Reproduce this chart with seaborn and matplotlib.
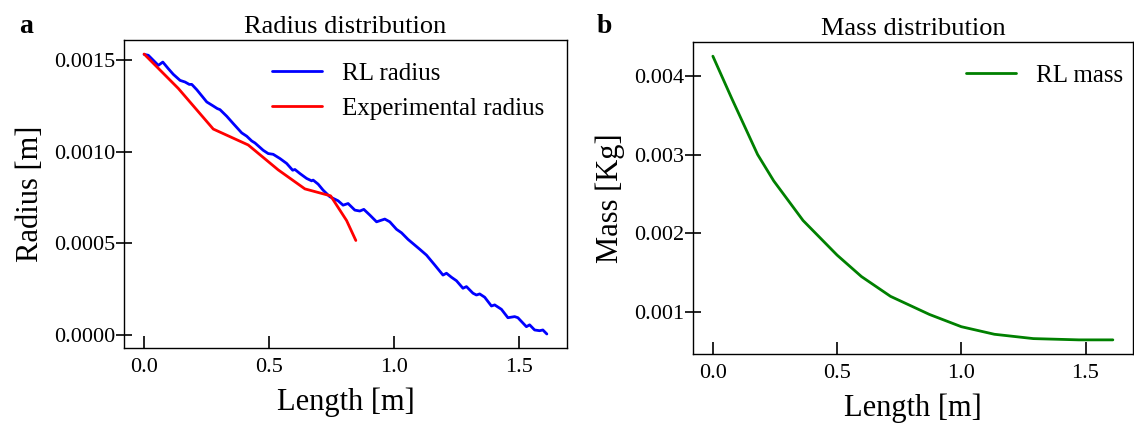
import numpy as np
import pandas as pd
import matplotlib
matplotlib.use("Agg")
import matplotlib.pyplot as plt
import seaborn as sns

# RL radius along the rod
rl_length = [0.000, 0.017, 0.044, 0.057, 0.075, 0.097, 0.117, 0.144, 0.164, 0.181,
             0.191, 0.211, 0.251, 0.277, 0.293, 0.304, 0.331, 0.357, 0.391, 0.411,
             0.431, 0.444, 0.477, 0.497, 0.517, 0.544, 0.571, 0.595, 0.604, 0.624,
             0.651, 0.671, 0.677, 0.697, 0.717, 0.744, 0.777, 0.797, 0.817, 0.844,
             0.864, 0.880, 0.904, 0.931, 0.944, 0.964, 0.984, 1.011, 1.031, 1.057,
             1.104, 1.131, 1.164, 1.197, 1.211, 1.231, 1.251, 1.277, 1.291, 1.317,
             1.331, 1.344, 1.364, 1.391, 1.404, 1.431, 1.457, 1.484, 1.497, 1.531,
             1.544, 1.564, 1.584, 1.597, 1.613]
rl_radius = [1.533, 1.528, 1.491, 1.473, 1.491, 1.455, 1.424, 1.391, 1.382, 1.369,
             1.369, 1.340, 1.273, 1.251, 1.237, 1.231, 1.195, 1.155, 1.104, 1.086,
             1.060, 1.049, 1.009, 0.991, 0.987, 0.964, 0.937, 0.900, 0.904, 0.882,
             0.855, 0.842, 0.846, 0.824, 0.791, 0.755, 0.733, 0.709, 0.718, 0.682,
             0.677, 0.686, 0.655, 0.618, 0.624, 0.633, 0.618, 0.577, 0.558, 0.522,
             0.468, 0.436, 0.382, 0.327, 0.337, 0.315, 0.296, 0.255, 0.264, 0.228,
             0.218, 0.224, 0.206, 0.158, 0.164, 0.140, 0.094, 0.100, 0.094, 0.045,
             0.055, 0.027, 0.023, 0.027, 0.005]  # x 1e-3 m

# experimental radius
exp_length = [0.000, 0.137, 0.277, 0.417, 0.537, 0.644, 0.747, 0.811, 0.848]
exp_radius = [1.535, 1.347, 1.125, 1.038, 0.902, 0.798, 0.760, 0.625, 0.516]  # x 1e-3 m

# RL mass
mass_length = [0.000, 0.076, 0.180, 0.245, 0.363, 0.500, 0.598, 0.715, 0.872,
               1.000, 1.133, 1.290, 1.473, 1.610]
rl_mass = [4.247, 3.711, 3.000, 2.665, 2.163, 1.724, 1.452, 1.201, 0.971,
           0.816, 0.720, 0.665, 0.649, 0.649]  # x 1e-3 kg

rl_df = pd.DataFrame({"Length": rl_length, "Radius": np.array(rl_radius) * 1e-3})
exp_df = pd.DataFrame({"Length": exp_length, "Radius": np.array(exp_radius) * 1e-3})
mass_df = pd.DataFrame({"Length": mass_length, "Mass": np.array(rl_mass) * 1e-3})

sns.set_theme(style="ticks")
plt.rcParams["font.family"] = ["Liberation Serif", "DejaVu Serif"]
plt.rcParams["axes.linewidth"] = 1.0
for k in ("text.color", "axes.labelcolor", "xtick.color", "ytick.color", "axes.edgecolor"):
    plt.rcParams[k] = "black"

fig = plt.figure(figsize=(11.34, 4.23), dpi=100)
ax1 = fig.add_axes([0.1093, 0.1773, 0.3907, 0.7281])
ax2 = fig.add_axes([0.611, 0.163, 0.388, 0.7377])

sns.lineplot(data=rl_df, x="Length", y="Radius", ax=ax1, color="#0000ff",
             lw=2, estimator=None, sort=False, label="RL radius")
sns.lineplot(data=exp_df, x="Length", y="Radius", ax=ax1, color="#ff0000",
             lw=2, estimator=None, sort=False, label="Experimental radius")
sns.lineplot(data=mass_df, x="Length", y="Mass", ax=ax2, color="green",
             lw=2, estimator=None, sort=False, label="RL mass")

ax1.set_title("Radius distribution", fontsize=19, pad=5)
ax2.set_title("Mass distribution", fontsize=19, pad=5)
ax1.set_xlabel("Length [m]", fontsize=22, labelpad=8)
ax1.set_ylabel("Radius [m]", fontsize=22, labelpad=7)
ax2.set_xlabel("Length [m]", fontsize=22, labelpad=8)
ax2.set_ylabel("Mass [Kg]", fontsize=22, labelpad=7)

ax1.set_xticks([0, 0.5, 1.0, 1.5])
ax2.set_xticks([0, 0.5, 1.0, 1.5])
ax1.set_yticks([0, 0.0005, 0.0010, 0.0015])
ax1.set_yticklabels(["0.0000", "0.0005", "0.0010", "0.0015"])
ax2.set_yticks([0.001, 0.002, 0.003, 0.004])
ax2.set_yticklabels(["0.001", "0.002", "0.003", "0.004"])

for ax in (ax1, ax2):
    ax.tick_params(axis="x", direction="in", length=9, width=1.2, labelsize=16, pad=7)
    ax.tick_params(axis="y", direction="inout", length=12, width=1.2, labelsize=16, pad=0)
    for s in ax.spines.values():
        s.set_visible(True)
        s.set_color("black")

ax1.legend(loc="upper right", frameon=False, fontsize=18, handlelength=2.0)
ax2.legend(loc="upper right", bbox_to_anchor=(1.03, 1.0), frameon=False,
           fontsize=18, handlelength=2.0)

fig.text(0.017, 0.922, "a", fontsize=20, fontweight="bold")
fig.text(0.526, 0.922, "b", fontsize=20, fontweight="bold")

fig.savefig("out.png", dpi=100)
